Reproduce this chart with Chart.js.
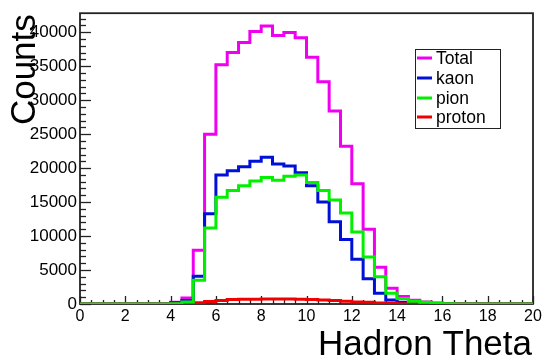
<!DOCTYPE html>
<html><head><meta charset="utf-8">
<script src="https://cdn.jsdelivr.net/npm/chart.js@4/dist/chart.umd.min.js"></script>
<style>html,body{margin:0;padding:0;background:#fff;}#c{display:block;}</style>
</head><body>
<canvas id="c" width="547" height="360"></canvas>
<script>
// Bin edges of the Hadron Theta histogram (41 edges, 40 bins)
const binEdges = [0,0.5,1,1.5,2,2.5,3,3.5,4,4.5,5,5.5,6,6.5,7,7.5,8,8.5,9,9.5,10,
  10.5,11,11.5,12,12.5,13,13.5,14,14.5,15,15.5,16,16.5,17,17.5,18,18.5,19,19.5,20];
const seriesNames = ['Total','kaon','pion','proton'];
const totalCounts = [0,0,0,0,0,0,0,0,250,900,7900,25000,35200,37000,38500,40100,40900,39500,39950,39200,
  36300,32700,28400,23200,17700,11000,5400,2300,1100,550,300,150,50,0,0,0,0,0,0,0];
const kaonCounts = [0,0,0,0,0,0,0,0,200,500,4100,13300,19000,19600,20200,21000,21600,20600,20300,19300,
  17400,15000,12100,9500,6600,3700,1600,600,250,120,50,20,0,0,0,0,0,0,0,0];
const pionCounts = [0,0,0,0,0,0,0,0,50,300,3500,11200,15700,16700,17400,18100,18600,18200,18800,19000,
  17900,16700,15300,13400,10600,6900,4000,1600,800,400,250,120,40,0,0,0,0,0,0,0];
const protonCounts = [0,0,0,0,0,0,0,0,0,50,200,350,500,650,700,700,750,750,750,700,
  650,600,500,400,300,250,150,100,50,20,10,0,0,0,0,0,0,0,0,0];
const xTickLabels = ['0','2','4','6','8','10','12','14','16','18','20'];
const yTickLabels = ['0','5000','10000','15000','20000','25000','30000','35000','40000'];

const FONT = '"Liberation Sans", Arial, Helvetica, sans-serif';
const colors = ['rgb(240,0,240)','rgb(0,16,215)','rgb(0,240,0)','rgb(240,0,0)'];

function toPoints(vals){
  return binEdges.map((e,i)=>({x:e, y: i < vals.length ? vals[i] : vals[vals.length-1]}));
}
const allVals = [totalCounts,kaonCounts,pionCounts,protonCounts];
const orders = [4,3,1,2];
const datasets = seriesNames.map((n,i)=>({
  label:n, data:toPoints(allVals[i]), borderColor:colors[i], backgroundColor:colors[i],
  borderWidth:3, stepped:true, pointRadius:0, fill:false, order:orders[i]
}));

const framePlugin = {
  id:'frame',
  beforeDatasetsDraw(chart){
    const {ctx, chartArea:a, scales:{x,y}} = chart;
    ctx.save();
    ctx.strokeStyle='#222'; ctx.lineWidth=1.3;
    for(let v=0; v<=42000; v+=1000){
      const py = Math.round(y.getPixelForValue(v))+0.5;
      const len = (v%5000===0)?11:6;
      ctx.beginPath(); ctx.moveTo(a.left,py); ctx.lineTo(a.left+len,py); ctx.stroke();
    }
    for(let v=0; v<=20; v+=0.5){
      const px = Math.round(x.getPixelForValue(v))+0.5;
      const len = (v%2===0)?8:4;
      ctx.beginPath(); ctx.moveTo(px,a.bottom); ctx.lineTo(px,a.bottom-len); ctx.stroke();
    }
    ctx.lineWidth=1.8;
    ctx.strokeRect(a.left, a.top, a.right-a.left, a.bottom-a.top);
    ctx.restore();
  },
  afterDraw(chart){
    const {ctx, chartArea:a} = chart;
    ctx.save();
    ctx.fillStyle='#000';
    ctx.font = '35px '+FONT;
    ctx.textAlign='right'; ctx.textBaseline='alphabetic';
    ctx.fillText('Hadron Theta', a.right-1, 355);
    ctx.save();
    ctx.translate(35, a.top+1);
    ctx.rotate(-Math.PI/2);
    ctx.font = '35px '+FONT;
    ctx.textAlign='right';
    ctx.fillText('Counts', 0, 0);
    ctx.restore();
    // legend
    const lx=415, ly=49, lw=85, lh=79;
    ctx.fillStyle='#fff'; ctx.fillRect(lx,ly,lw,lh);
    ctx.strokeStyle='#222'; ctx.lineWidth=1;
    ctx.strokeRect(lx+0.5,ly+0.5,lw,lh);
    const rows=[58,78,98,117];
    ctx.font='17.5px '+FONT; ctx.textAlign='left'; ctx.textBaseline='middle';
    seriesNames.forEach((n,i)=>{
      ctx.strokeStyle=colors[i]; ctx.lineWidth=3;
      ctx.beginPath(); ctx.moveTo(417,rows[i]); ctx.lineTo(432,rows[i]); ctx.stroke();
      ctx.fillStyle='#000'; ctx.fillText(n,436,rows[i]+1);
    });
    ctx.restore();
  }
};

new Chart(document.getElementById('c').getContext('2d'), {
  type:'line',
  data:{datasets},
  options:{
    responsive:false, animation:false, devicePixelRatio:1,
    layout:{padding:{top:11,right:14,left:0,bottom:0}},
    plugins:{legend:{display:false}, tooltip:{enabled:false}},
    scales:{
      x:{type:'linear', min:0, max:20,
        afterBuildTicks(s){ s.ticks = xTickLabels.map(t=>({value:Number(t)})); },
        ticks:{autoSkip:false, maxRotation:0, padding:3, color:'#000',
          font:{family:FONT,size:16},
          callback:(v)=>String(v)},
        grid:{display:false, drawTicks:false}, border:{display:false},
        afterFit(s){s.height=56;}},
      y:{type:'linear', min:0, max:42800,
        afterBuildTicks(s){ s.ticks = yTickLabels.map(t=>({value:Number(t)})); },
        ticks:{autoSkip:false, padding:3, color:'#000',
          font:{family:FONT,size:17},
          callback:(v)=>String(v)},
        grid:{display:false, drawTicks:false}, border:{display:false},
        afterFit(s){s.width=80;}}
    }
  },
  plugins:[framePlugin]
});
</script>
</body></html>
